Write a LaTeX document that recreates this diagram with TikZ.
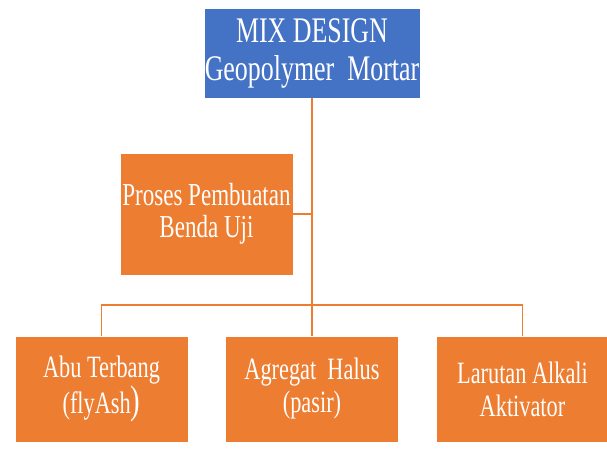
\documentclass[tikz,border=0pt]{standalone}
\usepackage{fontspec}
\newfontfamily\boxfont[FakeStretch=0.72]{Liberation Serif}
\usepackage{tikz}
\usetikzlibrary{positioning}
\definecolor{mixblue}{HTML}{4472C4}
\definecolor{mixorange}{HTML}{ED7D31}

\begin{document}
\begin{tikzpicture}[x=1pt, y=1pt,
    box/.style={fill=mixorange, draw=white, line width=0.6pt, text=white,
        align=center, inner sep=0pt, minimum width=173pt, font=\boxfont},
    link/.style={draw=mixorange, line width=1.8pt}]
    \useasboundingbox (0,0) rectangle (607,448);

    \node[box, fill=mixblue, minimum width=216pt, minimum height=90pt,
        font=\boxfont\fontsize{36}{38}\selectfont] at (312,395) (top)
        {MIX DESIGN\\Geopolymer\ \ Mortar};
    \node[box, minimum height=122pt, font=\boxfont\fontsize{32}{32}\selectfont]
        at (206.5,234) (proses) {Proses Pembuatan\\Benda Uji};

    \node[box, minimum height=106pt, font=\boxfont\fontsize{31}{33}\selectfont]
        at (101.5,59) (abu) {Abu Terbang\\(flyAsh{\fontsize{40}{33}\selectfont)}};
    \node[box, minimum height=106pt, font=\boxfont\fontsize{31}{33}\selectfont]
        at (312,59) (agregat) {Agregat\ \ Halus\\(pasir)};
    \node[box, minimum height=106pt, font=\boxfont\fontsize{31}{33}\selectfont]
        at (522.5,59) (larutan) {Larutan Alkali\\Aktivator};

    \coordinate (hub) at (312,143);

    \draw[link] (top.south) -- (agregat.north);
    \draw[link] (proses.east) -- (proses.east -| top.south);
    \draw[link] (abu.north) |- (hub) -| (larutan.north);
\end{tikzpicture}
\end{document}
